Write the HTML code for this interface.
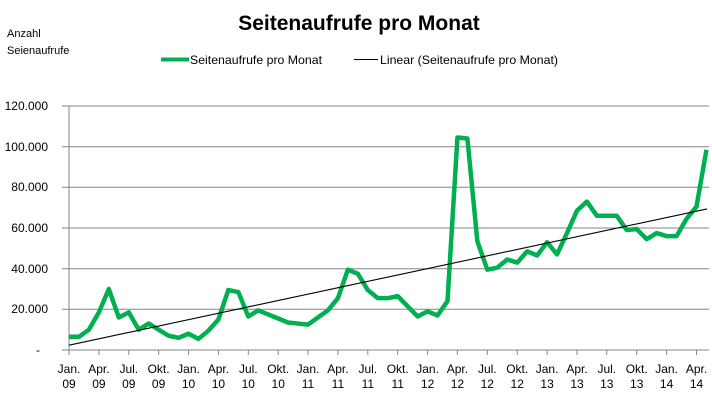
<!DOCTYPE html>
<html><head><meta charset="utf-8"><style>
body{margin:0;background:#fff;}
text{font-family:"Liberation Sans",sans-serif;fill:#000;}
</style></head><body>
<svg width="712" height="404" xmlns="http://www.w3.org/2000/svg">
<rect width="712" height="404" fill="#fff"/>
<text x="359" y="30" font-size="21" font-weight="bold" text-anchor="middle">Seitenaufrufe pro Monat</text>
<text x="7" y="37" font-size="11">Anzahl</text>
<text x="7" y="54" font-size="11">Seienaufrufe</text>
<line x1="161" y1="59.5" x2="189" y2="59.5" stroke="#00b050" stroke-width="4"/>
<text x="190" y="64" font-size="12" textLength="132" lengthAdjust="spacingAndGlyphs">Seitenaufrufe pro Monat</text>
<line x1="354" y1="59.5" x2="378" y2="59.5" stroke="#000" stroke-width="1"/>
<text x="380" y="64" font-size="12" textLength="178" lengthAdjust="spacingAndGlyphs">Linear (Seitenaufrufe pro Monat)</text>
<g stroke="#868686" stroke-width="1">
<line x1="62" y1="106" x2="709" y2="106"/>
<line x1="62" y1="146.7" x2="709" y2="146.7"/>
<line x1="62" y1="187.3" x2="709" y2="187.3"/>
<line x1="62" y1="228" x2="709" y2="228"/>
<line x1="62" y1="268.7" x2="709" y2="268.7"/>
<line x1="62" y1="309.3" x2="709" y2="309.3"/>
<line x1="62" y1="350" x2="709" y2="350"/>
<line x1="69" y1="106" x2="69" y2="355"/>
<line x1="98.9" y1="350" x2="98.9" y2="355"/><line x1="128.8" y1="350" x2="128.8" y2="355"/><line x1="158.6" y1="350" x2="158.6" y2="355"/><line x1="188.5" y1="350" x2="188.5" y2="355"/><line x1="218.4" y1="350" x2="218.4" y2="355"/><line x1="248.3" y1="350" x2="248.3" y2="355"/><line x1="278.2" y1="350" x2="278.2" y2="355"/><line x1="308" y1="350" x2="308" y2="355"/><line x1="337.9" y1="350" x2="337.9" y2="355"/><line x1="367.8" y1="350" x2="367.8" y2="355"/><line x1="397.7" y1="350" x2="397.7" y2="355"/><line x1="427.6" y1="350" x2="427.6" y2="355"/><line x1="457.4" y1="350" x2="457.4" y2="355"/><line x1="487.3" y1="350" x2="487.3" y2="355"/><line x1="517.2" y1="350" x2="517.2" y2="355"/><line x1="547.1" y1="350" x2="547.1" y2="355"/><line x1="577" y1="350" x2="577" y2="355"/><line x1="606.8" y1="350" x2="606.8" y2="355"/><line x1="636.7" y1="350" x2="636.7" y2="355"/><line x1="666.6" y1="350" x2="666.6" y2="355"/><line x1="696.5" y1="350" x2="696.5" y2="355"/>
</g>
<g font-size="12" text-anchor="end">
<text x="48" y="110">120.000</text>
<text x="48" y="151">100.000</text>
<text x="48" y="191">80.000</text>
<text x="48" y="232">60.000</text>
<text x="48" y="273">40.000</text>
<text x="48" y="313">20.000</text>
<text x="40" y="354">-</text>
</g>
<g font-size="12" text-anchor="middle">
<text x="69" y="373">Jan.</text><text x="69" y="388">09</text>
<text x="98.9" y="373">Apr.</text><text x="98.9" y="388">09</text>
<text x="128.8" y="373">Jul.</text><text x="128.8" y="388">09</text>
<text x="158.6" y="373">Okt.</text><text x="158.6" y="388">09</text>
<text x="188.5" y="373">Jan.</text><text x="188.5" y="388">10</text>
<text x="218.4" y="373">Apr.</text><text x="218.4" y="388">10</text>
<text x="248.3" y="373">Jul.</text><text x="248.3" y="388">10</text>
<text x="278.2" y="373">Okt.</text><text x="278.2" y="388">10</text>
<text x="308" y="373">Jan.</text><text x="308" y="388">11</text>
<text x="337.9" y="373">Apr.</text><text x="337.9" y="388">11</text>
<text x="367.8" y="373">Jul.</text><text x="367.8" y="388">11</text>
<text x="397.7" y="373">Okt.</text><text x="397.7" y="388">11</text>
<text x="427.6" y="373">Jan.</text><text x="427.6" y="388">12</text>
<text x="457.4" y="373">Apr.</text><text x="457.4" y="388">12</text>
<text x="487.3" y="373">Jul.</text><text x="487.3" y="388">12</text>
<text x="517.2" y="373">Okt.</text><text x="517.2" y="388">12</text>
<text x="547.1" y="373">Jan.</text><text x="547.1" y="388">13</text>
<text x="577" y="373">Apr.</text><text x="577" y="388">13</text>
<text x="606.8" y="373">Jul.</text><text x="606.8" y="388">13</text>
<text x="636.7" y="373">Okt.</text><text x="636.7" y="388">13</text>
<text x="666.6" y="373">Jan.</text><text x="666.6" y="388">14</text>
<text x="696.5" y="373">Apr.</text><text x="696.5" y="388">14</text>
</g>
<g transform="translate(69,350) scale(9.96,-2.0333)">
<polyline fill="none" stroke="#00b050" stroke-width="4.5" stroke-linejoin="round" vector-effect="non-scaling-stroke" points="0,6.5 1,6.5 2,10 3,18.5 4,30 5,16 6,18.5 7,10 8,13 9,10 10,7 11,6 12,8 13,5.5 14,9.5 15,15 16,29.5 17,28.5 18,16.5 19,19.5 20,17.5 21,15.5 22,13.5 23,13 24,12.5 25,16 26,19.5 27,25.5 28,39.5 29,37.5 30,29.5 31,25.5 32,25.5 33,26.5 34,21.5 35,16.5 36,19 37,17 38,24 39,104.5 40,104 41,53.5 42,39.5 43,40.5 44,44.5 45,43 46,48.5 47,46.5 48,53 49,47 50,57.5 51,68.5 52,73 53,66 54,66 55,66 56,59 57,59.5 58,54.5 59,57.5 60,56 61,56 62,64.5 63,70.5 64,98.5"/>
</g>
<line x1="69" y1="345.2" x2="707" y2="208.9" stroke="#000" stroke-width="1.1"/>
</svg>
</body></html>
